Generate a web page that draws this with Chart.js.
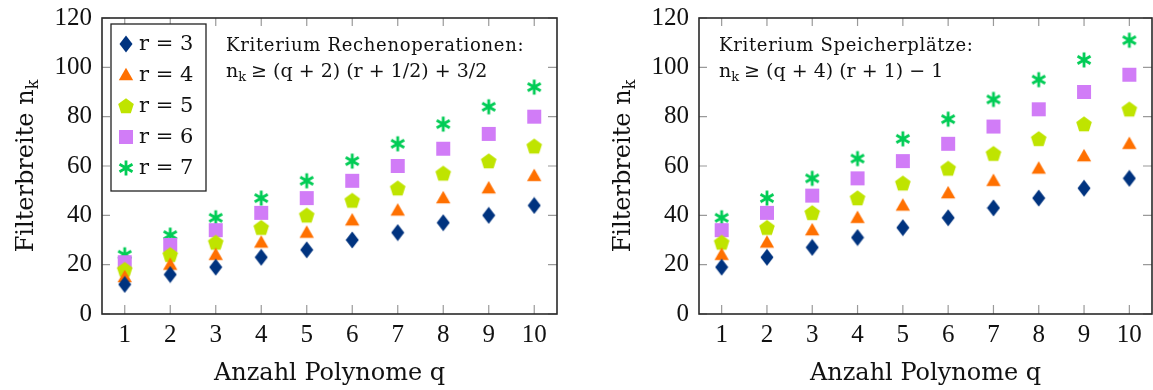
<!DOCTYPE html>
<html>
<head>
<meta charset="utf-8">
<script src="https://cdn.jsdelivr.net/npm/chart.js"></script>
<style>
  body { margin: 0; background: #fff; }
  #wrap { position: relative; width: 1153px; height: 390px; }
  canvas { position: absolute; top: 0; }
</style>
</head>
<body>
<div id="wrap">
  <canvas id="chart-rechen" width="576" height="390" style="left:0"></canvas>
  <canvas id="chart-speicher" width="577" height="390" style="left:576px"></canvas>
</div>
<script>
// Anzahl Polynome q
const polynome = ['1', '2', '3', '4', '5', '6', '7', '8', '9', '10'];
const rLabels = ['r = 3', 'r = 4', 'r = 5', 'r = 6', 'r = 7'];

// Kriterium Rechenoperationen
const rechenR3 = [12, 16, 19, 23, 26, 30, 33, 37, 40, 44];
const rechenR4 = [15, 20, 24, 29, 33, 38, 42, 47, 51, 56];
const rechenR5 = [18, 24, 29, 35, 40, 46, 51, 57, 62, 68];
const rechenR6 = [21, 28, 34, 41, 47, 54, 60, 67, 73, 80];
const rechenR7 = [24, 32, 39, 47, 54, 62, 69, 77, 84, 92];

// Kriterium Speicherplätze
const speicherR3 = [19, 23, 27, 31, 35, 39, 43, 47, 51, 55];
const speicherR4 = [24, 29, 34, 39, 44, 49, 54, 59, 64, 69];
const speicherR5 = [29, 35, 41, 47, 53, 59, 65, 71, 77, 83];
const speicherR6 = [34, 41, 48, 55, 62, 69, 76, 83, 90, 97];
const speicherR7 = [39, 47, 55, 63, 71, 79, 87, 95, 103, 111];

const farben = ['#00337f', '#ff7000', '#bfe400', '#d17cf7', '#00cc55'];
const textFont = '"DejaVu Serif", serif';

function marker(w, h, draw) {
  const c = document.createElement('canvas');
  c.width = w;
  c.height = h;
  draw(c.getContext('2d'), w / 2, h / 2);
  return c;
}

function polygon(ctx, cx, cy, r, n, color) {
  ctx.fillStyle = color;
  ctx.beginPath();
  for (let i = 0; i < n; i++) {
    const a = -Math.PI / 2 + (i * 2 * Math.PI) / n;
    ctx.lineTo(cx + r * Math.cos(a), cy + r * Math.sin(a));
  }
  ctx.closePath();
  ctx.fill();
}

const symbole = [
  marker(14, 18, (ctx, cx, cy) => {
    ctx.fillStyle = farben[0];
    ctx.beginPath();
    ctx.moveTo(cx, cy - 8.5);
    ctx.lineTo(cx + 6.5, cy);
    ctx.lineTo(cx, cy + 8.5);
    ctx.lineTo(cx - 6.5, cy);
    ctx.closePath();
    ctx.fill();
  }),
  marker(18, 18, (ctx, cx, cy) => polygon(ctx, cx, cy + 1, 8.3, 3, farben[1])),
  marker(18, 18, (ctx, cx, cy) => polygon(ctx, cx, cy + 0.5, 8.2, 5, farben[2])),
  marker(16, 16, (ctx, cx, cy) => {
    ctx.fillStyle = farben[3];
    ctx.fillRect(cx - 7, cy - 7, 14, 14);
  }),
  marker(18, 18, (ctx, cx, cy) => {
    ctx.strokeStyle = farben[4];
    ctx.lineWidth = 2.8;
    ctx.beginPath();
    [90, 30, 150].forEach((deg) => {
      const a = (deg * Math.PI) / 180;
      ctx.moveTo(cx - 7.5 * Math.cos(a), cy - 7.5 * Math.sin(a));
      ctx.lineTo(cx + 7.5 * Math.cos(a), cy + 7.5 * Math.sin(a));
    });
    ctx.stroke();
  }),
];

// Rahmen mit nach innen zeigenden Ticks (wie pgfplots)
const rahmen = {
  id: 'rahmen',
  beforeDatasetsDraw(chart) {
    const { ctx, chartArea: a, scales: { x, y } } = chart;
    ctx.save();
    ctx.strokeStyle = '#9a9a9a';
    ctx.lineWidth = 1.2;
    ctx.beginPath();
    x.ticks.forEach((t, i) => {
      const px = x.getPixelForTick(i);
      ctx.moveTo(px, a.bottom);
      ctx.lineTo(px, a.bottom - 9);
      ctx.moveTo(px, a.top);
      ctx.lineTo(px, a.top + 8);
    });
    y.ticks.forEach((t, i) => {
      const py = y.getPixelForTick(i);
      ctx.moveTo(a.left, py);
      ctx.lineTo(a.left + 8, py);
      ctx.moveTo(a.right, py);
      ctx.lineTo(a.right - 9, py);
    });
    ctx.stroke();
    ctx.strokeStyle = '#2a2a2a';
    ctx.lineWidth = 1.6;
    ctx.strokeRect(a.left, a.top, a.right - a.left, a.bottom - a.top);
    ctx.restore();
  },
};

function nk(ctx, x, y, size) {
  ctx.font = size + 'px ' + textFont;
  ctx.fillText('n', x, y);
  x += ctx.measureText('n').width;
  ctx.font = Math.round(size * 0.68) + 'px ' + textFont;
  ctx.fillText('k', x, y + size * 0.22);
  return x + ctx.measureText('k').width + 1;
}

const beschriftung = {
  id: 'beschriftung',
  afterDraw(chart, args, opts) {
    const { ctx, chartArea: a } = chart;
    ctx.save();
    ctx.fillStyle = '#111';
    ctx.textBaseline = 'alphabetic';
    ctx.textAlign = 'left';

    // Kriterium
    ctx.font = '18px ' + textFont;
    ctx.letterSpacing = '0.7px';
    ctx.fillText(opts.kriterium, a.left + opts.textX, a.top + 33);
    ctx.letterSpacing = '0px';
    const fx = nk(ctx, a.left + opts.textX, a.top + 59, 19);
    ctx.font = '19px ' + textFont;
    ctx.fillText(opts.formel, fx + 4, a.top + 59);

    // x-Achsentitel
    ctx.textAlign = 'center';
    ctx.font = '24px ' + textFont;
    ctx.fillText('Anzahl Polynome q', (a.left + a.right) / 2, 380);

    // y-Achsentitel
    ctx.save();
    ctx.translate(a.left - 69, (a.top + a.bottom) / 2);
    ctx.rotate(-Math.PI / 2);
    ctx.textAlign = 'left';
    ctx.font = '24px ' + textFont;
    const w1 = ctx.measureText('Filterbreite ').width + ctx.measureText('n').width;
    ctx.font = '16px ' + textFont;
    const w = w1 + ctx.measureText('k').width;
    ctx.font = '24px ' + textFont;
    ctx.fillText('Filterbreite ', -w / 2, 0);
    nk(ctx, -w / 2 + ctx.measureText('Filterbreite ').width, 0, 24);
    ctx.restore();

    // Legende
    if (opts.legende) {
      const bx = a.left + 9, by = a.top + 6;
      ctx.fillStyle = '#fff';
      ctx.fillRect(bx, by, 95, 167);
      ctx.strokeStyle = '#222';
      ctx.lineWidth = 1.3;
      ctx.strokeRect(bx, by, 95, 167);
      ctx.textAlign = 'left';
      ctx.textBaseline = 'middle';
      ctx.font = '21px ' + textFont;
      ctx.fillStyle = '#111';
      chart.data.datasets.forEach((ds, i) => {
        const cy = by + 20 + i * 31;
        const img = ds.pointStyle;
        ctx.drawImage(img, bx + 15 - img.width / 2, cy - img.height / 2);
        ctx.fillText(ds.label, bx + 28, cy + 1);
      });
    }
    ctx.restore();
  },
};

function datensaetze(reihen) {
  return reihen.map((werte, i) => ({
    label: rLabels[i],
    data: werte,
    showLine: false,
    pointStyle: symbole[i],
    pointRadius: 8,
    pointHoverRadius: 8,
    borderColor: farben[i],
    backgroundColor: farben[i],
  }));
}

function optionen(yWidth, rightPad, plugOpts) {
  return {
    responsive: false,
    animation: false,
    layout: { autoPadding: false, padding: { left: 0, top: 18, right: rightPad, bottom: 0 } },
    plugins: {
      legend: { display: false },
      tooltip: { enabled: false },
      beschriftung: plugOpts,
    },
    scales: {
      x: {
        type: 'category',
        offset: true,
        grid: { display: false, drawTicks: false },
        border: { display: false },
        ticks: { color: '#111', font: { family: '"Liberation Serif", serif', size: 25 }, padding: 6, maxRotation: 0, autoSkip: false },
        afterFit: (s) => {
          s.height = 76;
          s.paddingLeft = 0;
          s.paddingRight = 0;
        },
      },
      y: {
        min: 0,
        max: 120,
        grid: { display: false, drawTicks: false },
        border: { display: false },
        ticks: { stepSize: 20, color: '#111', font: { family: '"Liberation Serif", serif', size: 25 }, padding: 10 },
        afterFit: (s) => {
          s.width = yWidth;
          s.paddingTop = 0;
          s.paddingBottom = 0;
        },
      },
    },
  };
}

new Chart(document.getElementById('chart-rechen'), {
  type: 'line',
  data: {
    labels: polynome,
    datasets: datensaetze([rechenR3, rechenR4, rechenR5, rechenR6, rechenR7]),
  },
  options: optionen(102, 19, {
    kriterium: 'Kriterium Rechenoperationen:',
    formel: '≥ (q + 2) (r + 1/2) + 3/2',
    textX: 124,
    legende: true,
  }),
  plugins: [rahmen, beschriftung],
});

new Chart(document.getElementById('chart-speicher'), {
  type: 'line',
  data: {
    labels: polynome,
    datasets: datensaetze([speicherR3, speicherR4, speicherR5, speicherR6, speicherR7]),
  },
  options: optionen(123, 1, {
    kriterium: 'Kriterium Speicherplätze:',
    formel: '≥ (q + 4) (r + 1) − 1',
    textX: 20,
    legende: false,
  }),
  plugins: [rahmen, beschriftung],
});
</script>
</body>
</html>
